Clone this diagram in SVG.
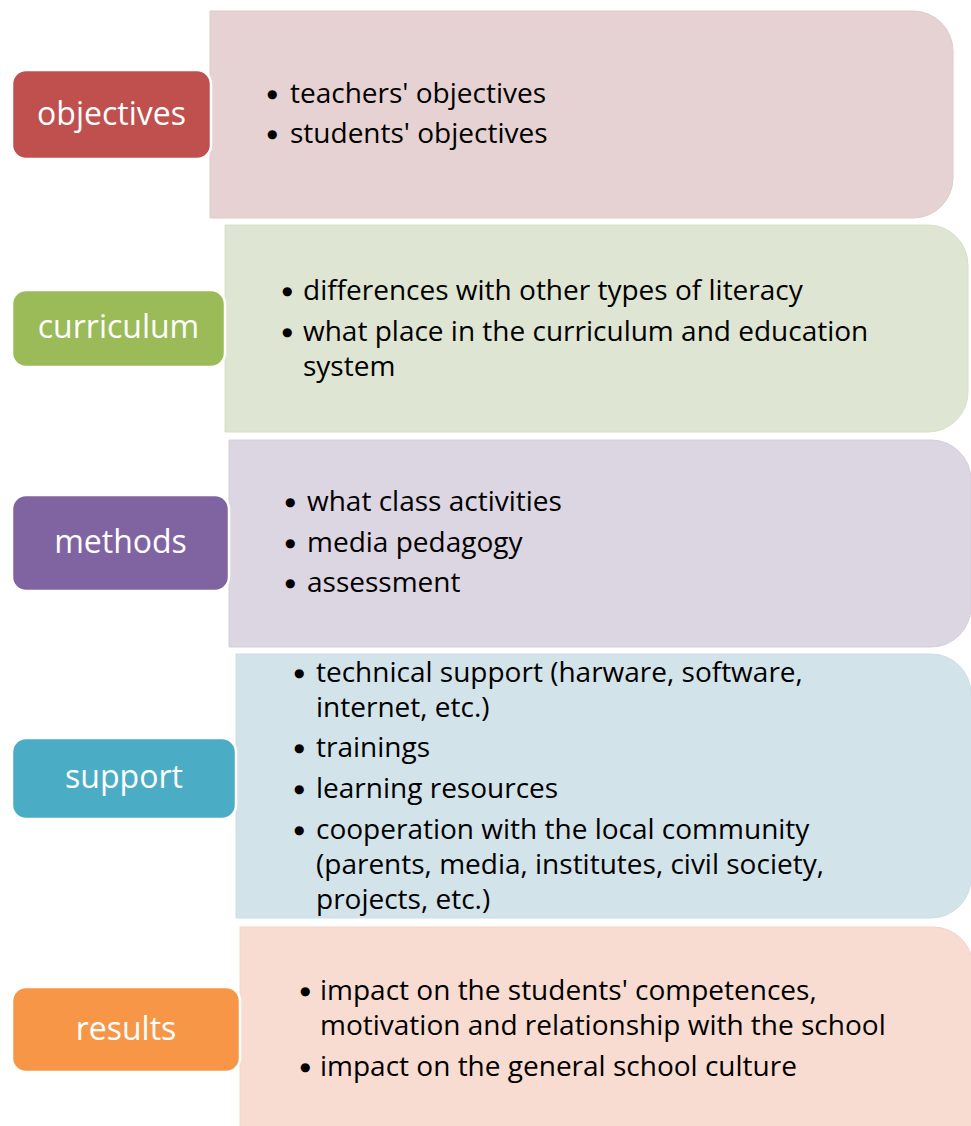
<svg xmlns="http://www.w3.org/2000/svg" width="971" height="1126" viewBox="0 0 971 1126">
<style>
.lbl{stroke:#ffffff;stroke-width:2.5}
.lt{font-family:"Open Sans","Liberation Sans",sans-serif;font-size:32px;fill:#ffffff;text-anchor:middle}
.ct{font-family:"Open Sans","Liberation Sans",sans-serif;font-size:28px;fill:#000000}
.b{font-family:"DejaVu Sans",sans-serif;font-size:12px}
</style>
<rect x="0" y="0" width="971" height="1126" fill="#ffffff"/>
<g id="objectives">
<path d="M210,11 H913 A40,40 0 0 1 953,51 V178 A40,40 0 0 1 913,218 H210 Z" fill="#e6d2d2" stroke="#e0caca" stroke-width="1"/>
<rect class="lbl" x="12" y="70" width="199" height="89" rx="14" fill="#c0504d"/>
<text class="lt" x="111.5" y="125">objectives</text>
<text class="ct" y="103"><tspan class="b" x="267" dy="-5">●</tspan><tspan x="290" dy="5">teachers' objectives</tspan></text>
<text class="ct" y="143"><tspan class="b" x="267" dy="-5">●</tspan><tspan x="290" dy="5">students' objectives</tspan></text>
</g>
<g id="curriculum">
<path d="M225,225 H928 A40,40 0 0 1 968,265 V392 A40,40 0 0 1 928,432 H225 Z" fill="#dfe5d3" stroke="#d7dfc9" stroke-width="1"/>
<rect class="lbl" x="12" y="290" width="213" height="77" rx="14" fill="#9bbb59"/>
<text class="lt" x="118.5" y="338">curriculum</text>
<text class="ct" y="300"><tspan class="b" x="282" dy="-5">●</tspan><tspan x="303" dy="5">differences with other types of literacy</tspan></text>
<text class="ct" y="341"><tspan class="b" x="282" dy="-5">●</tspan><tspan x="303" dy="5">what place in the curriculum and education</tspan><tspan x="303" dy="35">system</tspan></text>
</g>
<g id="methods">
<path d="M229,440 H931 A40,40 0 0 1 971,480 V607 A40,40 0 0 1 931,647 H229 Z" fill="#dcd5e2" stroke="#d5cddc" stroke-width="1"/>
<rect class="lbl" x="12" y="495" width="217" height="96" rx="14" fill="#8064a2"/>
<text class="lt" x="120.5" y="553">methods</text>
<text class="ct" y="511"><tspan class="b" x="285" dy="-5">●</tspan><tspan x="307" dy="5">what class activities</tspan></text>
<text class="ct" y="552"><tspan class="b" x="285" dy="-5">●</tspan><tspan x="307" dy="5">media pedagogy</tspan></text>
<text class="ct" y="592"><tspan class="b" x="285" dy="-5">●</tspan><tspan x="307" dy="5">assessment</tspan></text>
</g>
<g id="support">
<path d="M236,654 H931 A40,40 0 0 1 971,694 V878 A40,40 0 0 1 931,918 H236 Z" fill="#d3e3ea" stroke="#cbdde5" stroke-width="1"/>
<rect class="lbl" x="12" y="738" width="224" height="81" rx="14" fill="#4bacc6"/>
<text class="lt" x="124" y="788">support</text>
<text class="ct" y="682"><tspan class="b" x="294" dy="-5">●</tspan><tspan x="316" dy="5">technical support (harware, software,</tspan><tspan x="316" dy="35">internet, etc.)</tspan></text>
<text class="ct" y="757"><tspan class="b" x="294" dy="-5">●</tspan><tspan x="316" dy="5">trainings</tspan></text>
<text class="ct" y="798"><tspan class="b" x="294" dy="-5">●</tspan><tspan x="316" dy="5">learning resources</tspan></text>
<text class="ct" y="839"><tspan class="b" x="294" dy="-5">●</tspan><tspan x="316" dy="5">cooperation with the local community</tspan><tspan x="316" dy="35">(parents, media, institutes, civil society,</tspan><tspan x="316" dy="35">projects, etc.)</tspan></text>
</g>
<g id="results">
<path d="M240,927 H933 A40,40 0 0 1 973,967 V1140 H240 Z" fill="#f9dcd1" stroke="#f4d4c8" stroke-width="1"/>
<rect class="lbl" x="12" y="987" width="228" height="85" rx="14" fill="#f79646"/>
<text class="lt" x="126" y="1040">results</text>
<text class="ct" y="1000"><tspan class="b" x="300" dy="-5">●</tspan><tspan x="320" dy="5">impact on the students' competences,</tspan><tspan x="320" dy="35">motivation and relationship with the school</tspan></text>
<text class="ct" y="1076"><tspan class="b" x="300" dy="-5">●</tspan><tspan x="320" dy="5">impact on the general school culture</tspan></text>
</g>
<g id="connectors"></g>
</svg>
